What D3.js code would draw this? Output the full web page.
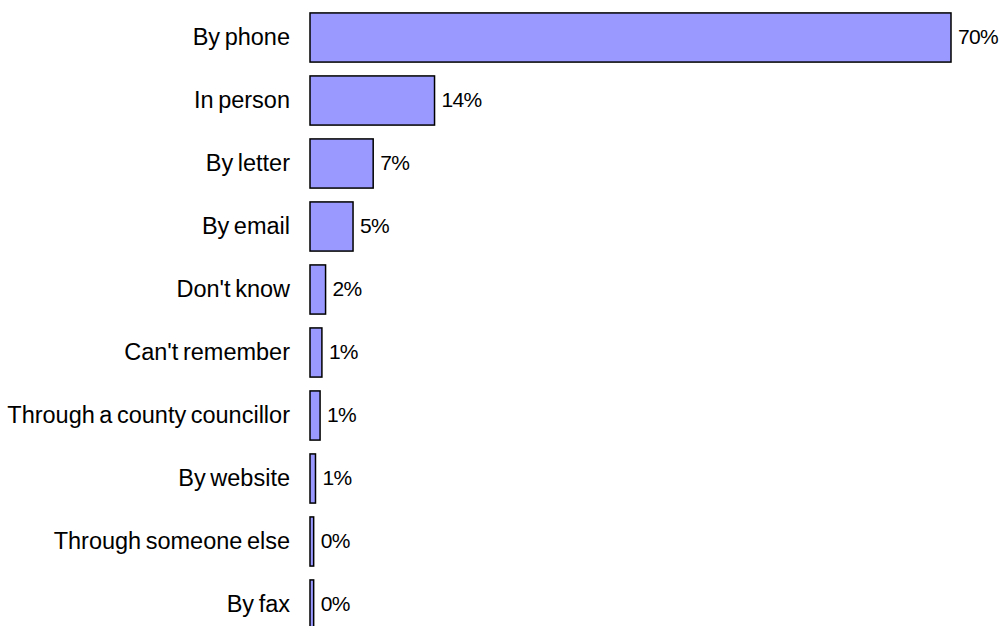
<!DOCTYPE html>
<html>
<head>
<meta charset="utf-8">
<script src="https://cdn.jsdelivr.net/npm/d3@7"></script>
<style>
  body { margin: 0; background: #fff; }
  text { font-family: "Liberation Sans", Arial, sans-serif; fill: #000; }
</style>
</head>
<body>
<svg id="bar-chart" width="1000" height="626"></svg>
<script>
// categories and shares (fraction of respondents)
const categories = ["By phone", "In person", "By letter", "By email", "Don't know",
  "Can't remember", "Through a county councillor", "By website",
  "Through someone else", "By fax"];
const values = [0.70, 0.136, 0.069, 0.047, 0.017, 0.013, 0.011, 0.006, 0.004, 0.004];

let svg = d3.select("#bar-chart"),
    width = +svg.attr("width"),
    height = +svg.attr("height");

let left = 310, right = 951;

let x = d3.scaleLinear()
  .domain([0, d3.max(values)])
  .range([left, right]);

let y = d3.scaleBand()
  .domain(categories)
  .range([6, 636])
  .paddingInner(0.22)
  .paddingOuter(0.11);

let data = categories.map(function(c, i) { return {cat: c, val: values[i]}; });
let fmt = d3.format(".0%");

// bars
svg.selectAll("rect.bar")
  .data(data)
  .enter()
  .append("rect")
  .attr("class", "bar")
  .attr("x", x(0))
  .attr("y", function(d) { return y(d.cat); })
  .attr("width", function(d) { return x(d.val) - x(0); })
  .attr("height", y.bandwidth())
  .attr("fill", "#9999ff")
  .attr("stroke", "#000")
  .attr("stroke-width", 1.5);

// category labels
svg.selectAll("text.cat")
  .data(data)
  .enter()
  .append("text")
  .attr("class", "cat")
  .attr("x", 290)
  .attr("y", function(d) { return y(d.cat) + y.bandwidth() / 2; })
  .attr("dy", "0.3em")
  .attr("text-anchor", "end")
  .style("font-size", "23.5px")
  .style("word-spacing", "-2px")
  .text(function(d) { return d.cat; });

// value labels
svg.selectAll("text.val")
  .data(data)
  .enter()
  .append("text")
  .attr("class", "val")
  .attr("x", function(d) { return x(d.val) + 7; })
  .attr("y", function(d) { return y(d.cat) + y.bandwidth() / 2; })
  .attr("dy", "0.33em")
  .style("font-size", "21px")
  .style("letter-spacing", "-0.7px")
  .text(function(d) { return fmt(d.val); });
</script>
</body>
</html>
